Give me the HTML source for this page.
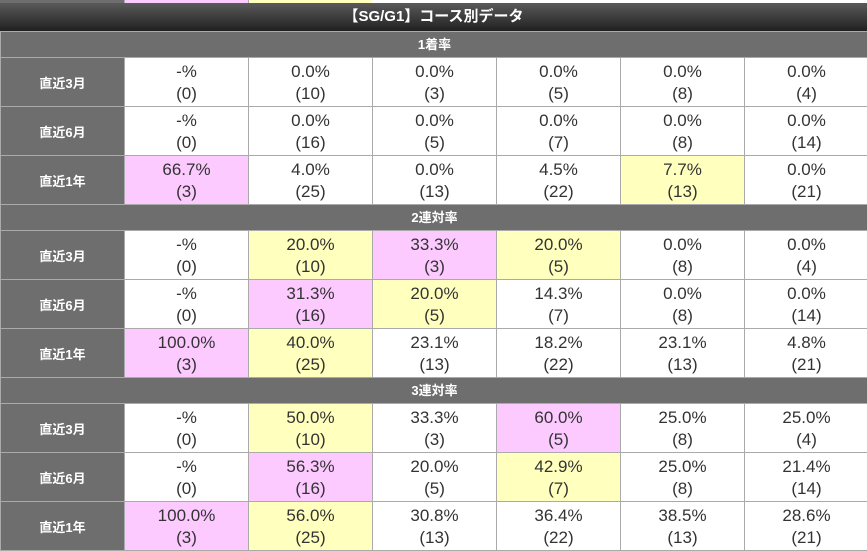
<!DOCTYPE html>
<html><head><meta charset="utf-8"><style>
body{margin:0;width:867px;height:549px;overflow:hidden;background:#fff;font-family:"Liberation Sans","Noto Sans CJK JP",sans-serif;}
.c{position:absolute;box-sizing:border-box;}
table{position:absolute;left:0;top:31px;border-collapse:collapse;width:868px;table-layout:fixed;}
td{border:1px solid #aaa;text-align:center;color:#333;font-size:17px;padding:0;height:48px;}
td div{height:48px;overflow:hidden;box-sizing:border-box;padding-top:3px;line-height:22px;}
td.l{background:#6e6e6e;color:#fff;font-weight:bold;font-size:13px;}
tr.s td{background:#6e6e6e;color:#fff;font-weight:bold;font-size:13px;height:25px;line-height:25px;}
.p{background:#fccaff;}.y{background:#ffffbe;}
</style></head><body>
<div class="c" style="left:0;top:0;width:124px;height:3px;background:#6e6e6e"></div>
<div class="c" style="left:124px;top:0;width:124px;height:3px;background:#fccaff;border-left:1px solid #aaa"></div>
<div class="c" style="left:248px;top:0;width:124px;height:3px;background:#ffffbe;border-left:1px solid #aaa"></div>
<div class="c" style="left:0;top:3px;width:867px;height:29px;background:linear-gradient(#5a5a5a,#1e1e1e);color:#fff;font-weight:bold;font-size:15px;line-height:28px;text-align:center">【SG/G1】コース別データ</div>
<table>
<colgroup><col style="width:124px"><col style="width:124px"><col style="width:124px"><col style="width:124px"><col style="width:124px"><col style="width:124px"><col style="width:124px"></colgroup>
<tr class="s"><td colspan="7">1着率</td></tr>
<tr><td class="l">直近3月</td><td><div>-%<br>(0)</div></td><td><div>0.0%<br>(10)</div></td><td><div>0.0%<br>(3)</div></td><td><div>0.0%<br>(5)</div></td><td><div>0.0%<br>(8)</div></td><td><div>0.0%<br>(4)</div></td></tr>
<tr><td class="l">直近6月</td><td><div>-%<br>(0)</div></td><td><div>0.0%<br>(16)</div></td><td><div>0.0%<br>(5)</div></td><td><div>0.0%<br>(7)</div></td><td><div>0.0%<br>(8)</div></td><td><div>0.0%<br>(14)</div></td></tr>
<tr><td class="l">直近1年</td><td class="p"><div>66.7%<br>(3)</div></td><td><div>4.0%<br>(25)</div></td><td><div>0.0%<br>(13)</div></td><td><div>4.5%<br>(22)</div></td><td class="y"><div>7.7%<br>(13)</div></td><td><div>0.0%<br>(21)</div></td></tr>
<tr class="s"><td colspan="7">2連対率</td></tr>
<tr><td class="l">直近3月</td><td><div>-%<br>(0)</div></td><td class="y"><div>20.0%<br>(10)</div></td><td class="p"><div>33.3%<br>(3)</div></td><td class="y"><div>20.0%<br>(5)</div></td><td><div>0.0%<br>(8)</div></td><td><div>0.0%<br>(4)</div></td></tr>
<tr><td class="l">直近6月</td><td><div>-%<br>(0)</div></td><td class="p"><div>31.3%<br>(16)</div></td><td class="y"><div>20.0%<br>(5)</div></td><td><div>14.3%<br>(7)</div></td><td><div>0.0%<br>(8)</div></td><td><div>0.0%<br>(14)</div></td></tr>
<tr><td class="l">直近1年</td><td class="p"><div>100.0%<br>(3)</div></td><td class="y"><div>40.0%<br>(25)</div></td><td><div>23.1%<br>(13)</div></td><td><div>18.2%<br>(22)</div></td><td><div>23.1%<br>(13)</div></td><td><div>4.8%<br>(21)</div></td></tr>
<tr class="s"><td colspan="7">3連対率</td></tr>
<tr><td class="l">直近3月</td><td><div>-%<br>(0)</div></td><td class="y"><div>50.0%<br>(10)</div></td><td><div>33.3%<br>(3)</div></td><td class="p"><div>60.0%<br>(5)</div></td><td><div>25.0%<br>(8)</div></td><td><div>25.0%<br>(4)</div></td></tr>
<tr><td class="l">直近6月</td><td><div>-%<br>(0)</div></td><td class="p"><div>56.3%<br>(16)</div></td><td><div>20.0%<br>(5)</div></td><td class="y"><div>42.9%<br>(7)</div></td><td><div>25.0%<br>(8)</div></td><td><div>21.4%<br>(14)</div></td></tr>
<tr><td class="l">直近1年</td><td class="p"><div>100.0%<br>(3)</div></td><td class="y"><div>56.0%<br>(25)</div></td><td><div>30.8%<br>(13)</div></td><td><div>36.4%<br>(22)</div></td><td><div>38.5%<br>(13)</div></td><td><div>28.6%<br>(21)</div></td></tr>
</table>
</body></html>
